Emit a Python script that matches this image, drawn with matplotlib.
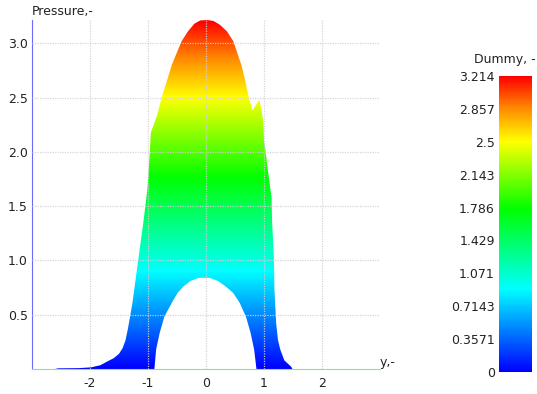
import numpy as np
import matplotlib
matplotlib.use("Agg")
import matplotlib.pyplot as plt
from matplotlib.colors import LinearSegmentedColormap, Normalize
from matplotlib.cm import ScalarMappable
from matplotlib.patches import Polygon

# ---------------- data ----------------
# upper edge of the pressure field, left to right
upper_x = [-2.60, -2.55, -2.20, -1.98, -1.82, -1.70, -1.59, -1.50, -1.44, -1.39,
           -1.35, -1.31, -1.27, -1.16, -1.08, -1.01, -0.98, -0.95, -0.90, -0.84,
           -0.77, -0.59, -0.42, -0.31, -0.20, -0.10, 0.02, 0.13, 0.24, 0.36,
           0.47, 0.61, 0.67, 0.73, 0.80, 0.92, 0.96, 0.99, 1.00, 1.03,
           1.05, 1.13, 1.14, 1.17, 1.18, 1.21, 1.24, 1.28, 1.35, 1.47, 1.49]
upper_y = [0.00, 0.006, 0.008, 0.015, 0.035, 0.07, 0.10, 0.14, 0.19, 0.26,
           0.36, 0.48, 0.60, 1.04, 1.35, 1.66, 1.90, 2.18, 2.25, 2.34,
           2.49, 2.80, 3.02, 3.11, 3.18, 3.21, 3.214, 3.205, 3.17, 3.11,
           3.02, 2.80, 2.67, 2.52, 2.38, 2.48, 2.37, 2.27, 2.10, 2.01,
           1.90, 1.58, 1.35, 1.04, 0.73, 0.42, 0.27, 0.18, 0.08, 0.02, 0.00]

# lower edge (the empty arch in the middle), left to right
hole_x = [-0.89, -0.86, -0.80, -0.72, -0.67, -0.59, -0.49, -0.39, -0.27, -0.12,
          0.06, 0.21, 0.34, 0.47, 0.58, 0.69, 0.77, 0.83, 0.87]
hole_y = [0.00, 0.18, 0.33, 0.48, 0.53, 0.61, 0.70, 0.76, 0.81, 0.84,
          0.84, 0.81, 0.76, 0.70, 0.61, 0.48, 0.33, 0.18, 0.00]

x_ticks = [-2, -1, 0, 1, 2]
y_ticks = [0.5, 1.0, 1.5, 2.0, 2.5, 3.0]
y_ticklabels = ["0.5", "1.0", "1.5", "2.0", "2.5", "3.0"]
cb_ticks = [0, 0.3571, 0.7143, 1.071, 1.429, 1.786, 2.143, 2.5, 2.857, 3.214]
cb_ticklabels = ["0", "0.3571", "0.7143", "1.071", "1.429", "1.786",
                 "2.143", "2.5", "2.857", "3.214"]
v_min, v_max = 0.0, 3.214

# ---------------- style ----------------
FS = 9
cmap = LinearSegmentedColormap.from_list(
    "dummy", [(0.0, "#0000ff"), (0.28, "#00ffff"), (0.55, "#00ff00"),
              (0.78, "#ffff00"), (0.89, "#ff8c00"), (1.0, "#ff0000")])
norm = Normalize(v_min, v_max)

fig = plt.figure(figsize=(5.37, 3.94), dpi=100)
fig.patch.set_facecolor("white")
ax = fig.add_axes([32 / 537, 25 / 394, 348 / 537, 349 / 394])

# gradient clipped by the outline of the field
outline = list(zip(upper_x, upper_y)) + list(zip(hole_x[::-1], hole_y[::-1]))
poly = Polygon(outline, closed=True, facecolor="none", edgecolor="none")
ax.add_patch(poly)
grad = np.linspace(v_min, v_max, 400).reshape(-1, 1)
im = ax.imshow(grad, extent=(-3, 3, v_min, v_max), origin="lower",
               cmap=cmap, norm=norm, aspect="auto", zorder=1)
im.set_clip_path(poly)

ax.set_xlim(-3, 3)
ax.set_ylim(v_min, v_max)
ax.set_xticks(x_ticks)
ax.set_xticklabels([str(t) for t in x_ticks], fontsize=FS, color="#222222")
ax.set_yticks(y_ticks)
ax.set_yticklabels(y_ticklabels, fontsize=FS, color="#222222")
ax.tick_params(length=0, pad=3)
ax.tick_params(axis="x", pad=6)

ax.grid(True, color="#d2d2d2", linestyle=(0, (1, 1)), linewidth=0.9, alpha=0.9, zorder=2)
ax.set_axisbelow(False)

for s in ["top", "right"]:
    ax.spines[s].set_visible(False)
ax.spines["left"].set_color("#6a6aff")
ax.spines["left"].set_linestyle((0, (1, 1)))
ax.spines["bottom"].set_color("#7ef07e")
ax.spines["bottom"].set_linestyle((0, (1, 1)))

ax.text(0.0, 1.005, "Pressure,-", transform=ax.transAxes, ha="left", va="bottom",
        fontsize=FS, color="#222222")
ax.text(1.0, 0.0, "y,-", transform=ax.transAxes, ha="left", va="bottom",
        fontsize=FS, color="#222222")

# ---------------- colorbar ----------------
cax = fig.add_axes([499 / 537, 22 / 394, 33 / 537, 296 / 394])
cb = fig.colorbar(ScalarMappable(norm=norm, cmap=cmap), cax=cax)
cb.outline.set_visible(False)
cax.yaxis.set_ticks_position("left")
cb.set_ticks(cb_ticks)
cb.set_ticklabels(cb_ticklabels)
cax.tick_params(length=0, pad=3, labelsize=FS, labelcolor="#222222")
fig.text(505 / 537, (394 - 60) / 394, "Dummy, -", ha="center", va="center",
         fontsize=FS, color="#222222")

fig.savefig("out.png", dpi=100, facecolor="white")
